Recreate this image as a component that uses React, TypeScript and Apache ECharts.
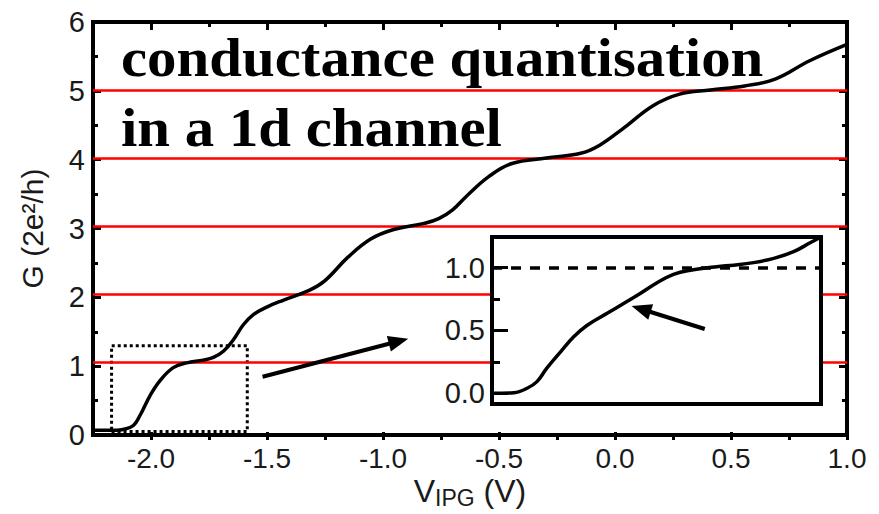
import React, { useEffect, useRef } from "react";
import * as echarts from "echarts";

// ---- main trace: gate voltage (V) vs conductance (2e^2/h) ----
const V_IPG = [
  -2.25, -2.2, -2.15, -2.121, -2.076, -2.047, -2.004, -1.961, -1.904,
  -1.846, -1.775, -1.731, -1.688, -1.645, -1.602, -1.559, -1.501, -1.431,
  -1.316, -1.25, -1.152, -1.053, -0.954, -0.823, -0.76, -0.7, -0.64, -0.543,
  -0.444, -0.296, -0.148, -0.066, 0.033, 0.164, 0.279, 0.411, 0.559, 0.69,
  0.839, 1.0,
];
const G_MAIN = [
  0, 0, 0, 0.01, 0.07, 0.22, 0.51, 0.73, 0.92, 0.99, 1.03, 1.07, 1.16, 1.33,
  1.55, 1.7, 1.81, 1.91, 2.06, 2.2, 2.54, 2.81, 2.95, 3.04, 3.11, 3.24, 3.44,
  3.73, 3.92, 4.0, 4.07, 4.19, 4.43, 4.77, 4.94, 5.0, 5.06, 5.16, 5.43, 5.67,
];

// ---- inset trace (first plateau, zoomed) ----
const INSET_V = [
  -2.2, -2.16, -2.136, -2.118, -2.1, -2.075, -2.051, -2.027, -1.99, -1.954,
  -1.929, -1.899, -1.869, -1.838, -1.79, -1.759, -1.723, -1.686, -1.65,
  -1.619, -1.6,
];
const INSET_G = [
  0, 0.005, 0.04, 0.093, 0.2, 0.33, 0.45, 0.54, 0.637, 0.73, 0.796, 0.88,
  0.947, 0.98, 1.008, 1.02, 1.04, 1.074, 1.127, 1.2, 1.244,
];

// quantised levels (red reference lines)
const QUANTA = [1, 2, 3, 4, 5];
const INSET_LEVEL = 1.0;

// axis ranges
const X_RANGE = [-2.25, 1.0];
const X_TICK_RANGE = [-2.0, 1.0];
const Y_RANGE = [-0.07, 6];
const Y_TICK_RANGE = [0, 6];
const INSET_X_RANGE = [-2.2, -1.6];
const INSET_Y_RANGE = [-0.085, 1.244];
const INSET_TICK_RANGE = [0, 1];

// annotations (data units)
const DOTTED_BOX = [[-2.17, -0.02], [-1.585, 1.24]];
const MAIN_ARROW = [[-1.519, 0.787], [-0.933, 1.307]];
const INSET_ARROW = [[-1.812, 0.512], [-1.928, 0.671]];

const TITLE_LINES = ["conductance quantisation", "in a 1d channel"];

export default function App() {
  const ref = useRef<HTMLDivElement>(null);

  useEffect(() => {
    if (!ref.current) return;
    const chart = echarts.init(ref.current, null, { renderer: "svg" });

    // frame geometry (px)
    const L = 93, R = 847, T = 22, B = 440;
    const W = R - L, H = B - T;
    const xPx = (v: number) => L + ((v - X_RANGE[0]) / (X_RANGE[1] - X_RANGE[0])) * W;
    const yPx = (g: number) => B - ((g - Y_RANGE[0]) / (Y_RANGE[1] - Y_RANGE[0])) * H;
    const x0 = xPx(X_TICK_RANGE[0]);
    const y0 = yPx(Y_TICK_RANGE[0]);

    // inset geometry
    const IL = 492, IR = 821, IT = 237, IB = 404;
    const iyPx = (g: number) =>
      IB - ((g - INSET_Y_RANGE[0]) / (INSET_Y_RANGE[1] - INSET_Y_RANGE[0])) * (IB - IT);
    const iTop = iyPx(INSET_TICK_RANGE[1]);
    const iBot = iyPx(INSET_TICK_RANGE[0]);

    const labelFont = {
      fontFamily: "Liberation Sans",
      fontSize: 29,
      color: "#1a1a1a",
    };
    const black = "#000";
    const tick = (len: number) => ({ show: true, inside: true, length: len, lineStyle: { color: black, width: 3 } });
    const minor = (len: number) => ({ show: true, splitNumber: 2, length: len, lineStyle: { color: black, width: 3 } });

    const option: any = {
      animation: false,
      backgroundColor: "#fff",
      grid: [
        { left: L, top: T, width: W, height: H, show: true, borderColor: black, borderWidth: 4, backgroundColor: "transparent", z: 0 },
        { left: x0, top: T, width: R - x0, height: H },
        { left: L, top: T, width: W, height: y0 - T },
        { left: IL, top: IT, width: IR - IL, height: IB - IT, show: true, backgroundColor: "#fff", borderColor: black, borderWidth: 4, z: 3 },
        { left: IL, top: iTop, width: IR - IL, height: iBot - iTop },
      ],
      xAxis: [
        {
          gridIndex: 0, type: "value", min: X_RANGE[0], max: X_RANGE[1],
          axisLine: { show: false }, axisTick: { show: false }, axisLabel: { show: false }, splitLine: { show: false },
          name: "{v|V}{s|IPG}{v| (V)}", nameLocation: "middle", nameGap: 37,
          nameTextStyle: {
            rich: {
              v: { fontFamily: "Liberation Sans", fontSize: 32, color: "#1a1a1a" },
              s: { fontFamily: "Liberation Sans", fontSize: 23, color: "#1a1a1a", padding: [14, 0, 0, 0] },
            },
          },
        },
        {
          gridIndex: 1, type: "value", min: X_TICK_RANGE[0], max: X_TICK_RANGE[1], interval: 0.5,
          axisLine: { show: false },
          axisTick: tick(8),
          minorTick: minor(5),
          axisLabel: { ...labelFont, fontSize: 28, lineHeight: 28, margin: 4, formatter: (v: number) => v.toFixed(1) },
          splitLine: { show: false },
        },
        {
          gridIndex: 1, type: "value", position: "top", min: X_TICK_RANGE[0], max: X_TICK_RANGE[1], interval: 0.5,
          axisLine: { show: false },
          axisTick: tick(8),
          minorTick: minor(5),
          axisLabel: { show: false }, splitLine: { show: false },
        },
        { gridIndex: 2, type: "value", show: false, min: 0, max: 1 },
        { gridIndex: 3, type: "value", show: false, min: INSET_X_RANGE[0], max: INSET_X_RANGE[1] },
        { gridIndex: 4, type: "value", show: false, min: 0, max: 1 },
      ],
      yAxis: [
        {
          gridIndex: 0, type: "value", min: Y_RANGE[0], max: Y_RANGE[1],
          axisLine: { show: false }, axisTick: { show: false }, axisLabel: { show: false }, splitLine: { show: false },
          name: "G (2e²/h)", nameLocation: "middle", nameGap: 46,
          nameTextStyle: { fontFamily: "Liberation Sans", fontSize: 30, color: "#1a1a1a" },
        },
        { gridIndex: 1, type: "value", show: false, min: 0, max: 1 },
        {
          gridIndex: 2, type: "value", min: Y_TICK_RANGE[0], max: Y_TICK_RANGE[1], interval: 1,
          axisLine: { show: false },
          axisTick: tick(8),
          minorTick: minor(5),
          axisLabel: { ...labelFont, margin: 8 },
          splitLine: { show: false },
        },
        {
          gridIndex: 2, type: "value", position: "right", min: Y_TICK_RANGE[0], max: Y_TICK_RANGE[1], interval: 1,
          axisLine: { show: false },
          axisTick: tick(8),
          minorTick: minor(5),
          axisLabel: { show: false }, splitLine: { show: false },
        },
        { gridIndex: 3, type: "value", show: false, min: INSET_Y_RANGE[0], max: INSET_Y_RANGE[1] },
        {
          gridIndex: 4, type: "value", min: INSET_TICK_RANGE[0], max: INSET_TICK_RANGE[1], interval: 0.5, z: 6,
          axisLine: { show: false },
          axisTick: tick(16),
          minorTick: minor(8),
          axisLabel: { ...labelFont, margin: 7, formatter: (v: number) => v.toFixed(1) },
          splitLine: { show: false },
        },
      ],
      series: [
        {
          name: "G",
          type: "line",
          xAxisIndex: 0, yAxisIndex: 0,
          data: V_IPG.map((v, i) => [v, G_MAIN[i]]),
          showSymbol: false, smooth: 0.4, z: 2,
          lineStyle: { color: black, width: 3.5 },
          markLine: {
            silent: true, z: 1, symbol: ["none", "none"], animation: false,
            label: { show: false },
            lineStyle: { color: "#ff0000", width: 2.5, type: "solid" },
            data: QUANTA.map((q) => ({ yAxis: q })),
          },
          markArea: {
            silent: true, z: 1,
            itemStyle: { color: "rgba(0,0,0,0)", borderColor: black, borderWidth: 3, borderType: [3, 3] },
            data: [[{ coord: DOTTED_BOX[0] }, { coord: DOTTED_BOX[1] }]],
          },
        },
        {
          name: "arrow",
          type: "line",
          xAxisIndex: 0, yAxisIndex: 0,
          data: [],
          markLine: {
            silent: true, z: 6, symbol: ["none", "triangle"], symbolSize: [16, 20],
            label: { show: false },
            lineStyle: { color: black, width: 4, type: "solid" },
            data: [[{ coord: MAIN_ARROW[0] }, { coord: MAIN_ARROW[1] }]],
          },
        },
        {
          name: "inset",
          type: "line",
          xAxisIndex: 4, yAxisIndex: 4,
          data: INSET_V.map((v, i) => [v, INSET_G[i]]),
          showSymbol: false, smooth: 0.4, z: 5,
          lineStyle: { color: black, width: 3.5 },
          markLine: {
            silent: true, z: 5, symbol: ["none", "none"],
            label: { show: false },
            lineStyle: { color: black, width: 3.5, type: [10, 9] },
            data: [{ yAxis: INSET_LEVEL }],
          },
        },
        {
          name: "insetArrow",
          type: "line",
          xAxisIndex: 4, yAxisIndex: 4,
          data: [],
          markLine: {
            silent: true, z: 7, symbol: ["none", "triangle"], symbolSize: [16, 20],
            label: { show: false },
            lineStyle: { color: black, width: 4, type: "solid" },
            data: [[{ coord: INSET_ARROW[0] }, { coord: INSET_ARROW[1] }]],
          },
        },
      ],
      graphic: TITLE_LINES.map((t, i) => ({
        type: "text",
        x: 121,
        y: 57 + i * 70,
        scaleX: 1.07,
        originX: 0,
        originY: 0,
        z: 10,
        style: {
          text: t,
          font: "bold 55px 'Liberation Serif'",
          fill: black,
          textAlign: "left",
          verticalAlign: "middle",
        },
      })),
    };

    chart.setOption(option);
    return () => chart.dispose();
  }, []);

  return (
    <div
      ref={ref}
      style={{ position: "fixed", left: 0, top: 0, width: 879, height: 514, background: "#fff" }}
    />
  );
}
